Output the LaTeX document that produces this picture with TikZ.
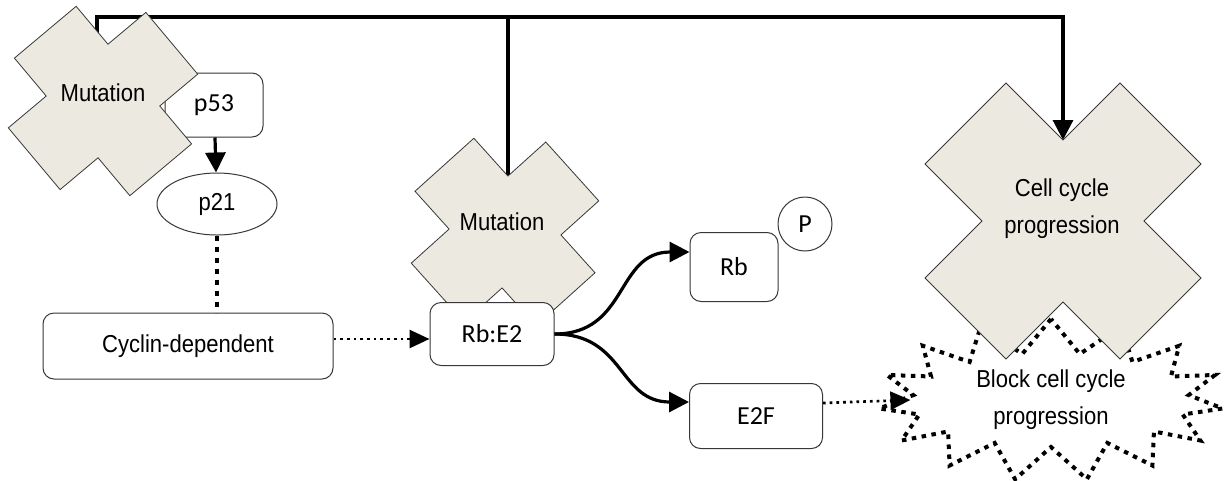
\documentclass[tikz,border=0pt]{standalone}
\usepackage{fontspec}
\setmainfont{Liberation Sans}[FakeStretch=0.9]
\newfontfamily\calibri{Carlito}
\usepackage{tikz}
\usetikzlibrary{shapes.geometric, shapes.symbols, arrows.meta, positioning, calc, backgrounds}

\definecolor{crossgray}{RGB}{236,234,224}
\definecolor{edgegray}{RGB}{55,55,55}

\tikzset{
    % cross shape: half size, arm offset
    pics/xcross/.style 2 args={code={
        \draw[crossshape] (-#2,-#1) -- (0,-#1+#2) -- (#2,-#1) -- (#1,-#2) -- (#1-#2,0) -- (#1,#2)
            -- (#2,#1) -- (0,#1-#2) -- (-#2,#1) -- (-#1,#2) -- (-#1+#2,0) -- (-#1,-#2) -- cycle;
        \coordinate (-top) at (0,-#1+#2);
    }}
}

\begin{document}
\begin{tikzpicture}[x=1pt, y=-1pt]
    % Styles
    \tikzset{
        crossshape/.style = {fill=crossgray, draw=edgegray, line width=0.8pt},
        crosstext/.style  = {font=\fontsize{24.5}{37}\selectfont, align=center},
        box/.style        = {rectangle, draw=edgegray, fill=white, rounded corners=11pt, line width=1pt, inner sep=0pt, font=\calibri\fontsize{26}{30}\selectfont},
        oval/.style       = {ellipse, draw=edgegray, fill=white, line width=1pt, inner sep=0pt, minimum width=120pt, minimum height=62pt, font=\fontsize{24.5}{30}\selectfont},
        burst/.style      = {starburst, starburst points=15, starburst point height=34pt, random starburst=0, draw, fill=white, line width=4pt, dash pattern=on 4.5pt off 5.5pt, minimum width=345pt, minimum height=156pt, align=center, font=\fontsize{24.5}{37}\selectfont},
        line/.style       = {draw, line width=3.2pt},
        arrow/.style      = {draw, line width=3.2pt, -{Triangle[length=20pt,width=20pt]}},
        dotarrow/.style   = {draw, line width=2.7pt, dash pattern=on 2.7pt off 4pt, -{Triangle[length=20pt,width=18pt]}},
        thickdots/.style  = {draw, line width=4.5pt, dash pattern=on 5pt off 6pt}
    }
    \useasboundingbox (0,0) rectangle (1225,480);

    % Block (behind the right cross)
    \node [burst] (block) at (1051,400) {Block cell cycle\\progression};

    % Left: p53 under the mutation cross
    \node [box, minimum width=98pt, minimum height=64pt] (p53) at (214,105) {p53};
    \pic [rotate=-5] (mA) at (103,101) {xcross={92}{35}};
    \node [crosstext] (mutA) at (103,93) {Mutation};

    % Middle cross and Rb:E2
    \pic [rotate=-3] (mB) at (505,232) {xcross={92}{36}};
    \node [crosstext] (mutB) at (502,222) {Mutation};
    \node [box, minimum width=124pt, minimum height=63pt] (rbe2) at (492,334) {Rb:E2};

    % Right cross
    \pic (cc) at (1063,221) {xcross={138}{57}};
    \node [crosstext] (cell) at (1062,209) {Cell cycle\\progression};

    % Other nodes
    \node [oval] (p21) at (217,204) {p21};
    \node [box, minimum width=290pt, minimum height=66pt, font=\fontsize{24.5}{30}\selectfont] (cyclin) at (188,346) {Cyclin-dependent};
    \node [box, minimum width=88pt, minimum height=69pt] (rb) at (734,267) {Rb};
    \node [circle, draw=edgegray, fill=white, line width=1pt, inner sep=0pt, minimum size=54pt, font=\calibri\fontsize{26}{30}\selectfont] (phos) at (805,224) {P};
    \node [box, minimum width=133pt, minimum height=65pt] (e2f) at (756,416) {E2F};

    % Connections
    \coordinate (bus) at (511,17);
    \begin{scope}[on background layer]
        \path [arrow] ([xshift=-6pt]mutA.north) |- (bus) -| (cc-top);
        \path [line] (mB-top) -- (mB-top |- bus);
    \end{scope}

    \path [arrow] (p53) -- (p21);
    \path [thickdots] (p21.south) -- (p21.south |- cyclin.north);
    \path [dotarrow] ([yshift=7pt]cyclin.east) -- ([yshift=-5pt]rbe2.west);

    \path [arrow] (rbe2.east) to[out=0, in=180, looseness=1.2] ([yshift=15pt]rb.west);
    \path [arrow] (rbe2.east) to[out=0, in=180, looseness=1.2] ([yshift=14pt]e2f.west);

    \path [dotarrow] ([yshift=13pt]e2f.east) -- ([xshift=15pt]block.west);
\end{tikzpicture}
\end{document}
